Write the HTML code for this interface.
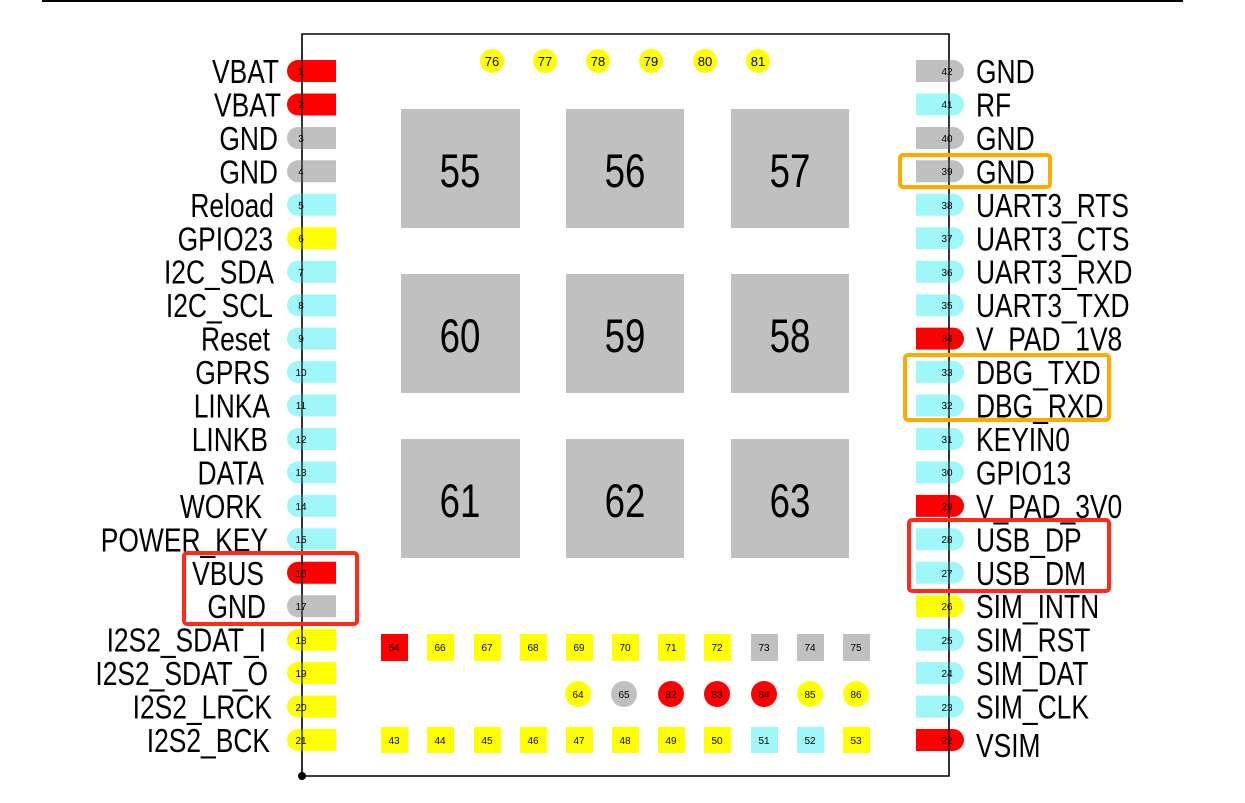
<!DOCTYPE html>
<html><head><meta charset="utf-8"><style>
html,body{margin:0;padding:0;background:#fff;}
svg{display:block;}
text{font-family:"Liberation Sans",sans-serif;}
.lb{font-size:33px;fill:#000;}
.pn{font-size:10px;fill:#000;text-anchor:middle;}
.sm{font-size:10px;fill:#000;text-anchor:middle;}
.big{font-size:47px;fill:#000;text-anchor:middle;}
.tp{font-size:13px;fill:#000;text-anchor:middle;}
</style></head><body>
<svg width="1245" height="803" viewBox="0 0 1245 803" xmlns="http://www.w3.org/2000/svg">
<line x1="42" y1="1" x2="1183" y2="1" stroke="#000" stroke-width="2"/>
<rect x="302" y="34" width="647" height="742" fill="none" stroke="#000" stroke-width="1.5"/>
<circle cx="302" cy="776" r="4" fill="#000"/>

<!-- top circles -->
<g fill="#ffff00">
<circle cx="492" cy="61" r="12"/><circle cx="545" cy="61" r="12"/><circle cx="598" cy="61" r="12"/>
<circle cx="651" cy="61" r="12"/><circle cx="705" cy="61" r="12"/><circle cx="758" cy="61" r="12"/>
</g>
<text class="tp" x="492" y="66">76</text><text class="tp" x="545" y="66">77</text><text class="tp" x="598" y="66">78</text>
<text class="tp" x="651" y="66">79</text><text class="tp" x="705" y="66">80</text><text class="tp" x="758" y="66">81</text>

<!-- big pads -->
<g fill="#c0c0c0">
<rect x="401" y="109" width="119" height="119"/><rect x="566" y="109" width="118" height="119"/><rect x="731" y="109" width="118" height="119"/>
<rect x="401" y="274" width="119" height="119"/><rect x="566" y="274" width="118" height="119"/><rect x="731" y="274" width="118" height="119"/>
<rect x="401" y="439" width="119" height="119"/><rect x="566" y="439" width="118" height="119"/><rect x="731" y="439" width="118" height="119"/>
</g>
<g transform="translate(460,187) scale(0.78,1)"><text class="big">55</text></g>
<g transform="translate(625,187) scale(0.78,1)"><text class="big">56</text></g>
<g transform="translate(790,187) scale(0.78,1)"><text class="big">57</text></g>
<g transform="translate(460,352) scale(0.78,1)"><text class="big">60</text></g>
<g transform="translate(625,352) scale(0.78,1)"><text class="big">59</text></g>
<g transform="translate(790,352) scale(0.78,1)"><text class="big">58</text></g>
<g transform="translate(460,517) scale(0.78,1)"><text class="big">61</text></g>
<g transform="translate(625,517) scale(0.78,1)"><text class="big">62</text></g>
<g transform="translate(790,517) scale(0.78,1)"><text class="big">63</text></g>

<!-- bottom row 1 -->
<rect x="381" y="634" width="27" height="27" fill="#ff0000"/>
<g fill="#ffff00">
<rect x="427" y="634" width="27" height="27"/><rect x="474" y="634" width="27" height="27"/><rect x="520" y="634" width="27" height="27"/>
<rect x="566" y="634" width="27" height="27"/><rect x="612" y="634" width="27" height="27"/><rect x="658" y="634" width="27" height="27"/>
<rect x="704" y="634" width="27" height="27"/>
</g>
<g fill="#c0c0c0"><rect x="751" y="634" width="27" height="27"/><rect x="797" y="634" width="27" height="27"/><rect x="843" y="634" width="27" height="27"/></g>
<text class="sm" x="394" y="651">54</text><text class="sm" x="440" y="651">66</text><text class="sm" x="487" y="651">67</text><text class="sm" x="533" y="651">68</text><text class="sm" x="579" y="651">69</text><text class="sm" x="625" y="651">70</text><text class="sm" x="671" y="651">71</text><text class="sm" x="717" y="651">72</text><text class="sm" x="764" y="651">73</text><text class="sm" x="810" y="651">74</text><text class="sm" x="856" y="651">75</text>

<!-- row 2 circles -->
<circle cx="578" cy="694" r="13" fill="#ffff00"/><circle cx="624" cy="694" r="13" fill="#c0c0c0"/>
<circle cx="671" cy="694" r="13" fill="#ff0000"/><circle cx="717" cy="694" r="13" fill="#ff0000"/><circle cx="764" cy="694" r="13" fill="#ff0000"/>
<circle cx="810" cy="694" r="13" fill="#ffff00"/><circle cx="856" cy="694" r="13" fill="#ffff00"/>
<text class="sm" x="578" y="698">64</text><text class="sm" x="624" y="698">65</text><text class="sm" x="671" y="698">82</text><text class="sm" x="717" y="698">83</text><text class="sm" x="764" y="698">84</text><text class="sm" x="810" y="698">85</text><text class="sm" x="856" y="698">86</text>

<!-- row 3 -->
<g fill="#ffff00">
<rect x="381" y="727" width="27" height="26"/><rect x="427" y="727" width="27" height="26"/><rect x="474" y="727" width="27" height="26"/>
<rect x="520" y="727" width="27" height="26"/><rect x="566" y="727" width="27" height="26"/><rect x="612" y="727" width="27" height="26"/>
<rect x="658" y="727" width="27" height="26"/><rect x="704" y="727" width="27" height="26"/><rect x="843" y="727" width="27" height="26"/>
</g>
<g fill="#9ff7f9"><rect x="751" y="727" width="27" height="26"/><rect x="797" y="727" width="27" height="26"/></g>
<text class="sm" x="394" y="744">43</text><text class="sm" x="440" y="744">44</text><text class="sm" x="487" y="744">45</text><text class="sm" x="533" y="744">46</text><text class="sm" x="579" y="744">47</text><text class="sm" x="625" y="744">48</text><text class="sm" x="671" y="744">49</text><text class="sm" x="717" y="744">50</text><text class="sm" x="764" y="744">51</text><text class="sm" x="810" y="744">52</text><text class="sm" x="856" y="744">53</text>

<!-- left pins -->
<g>
<path d="M336,60H298A11,11 0 0 0 298,82H336Z" fill="#ff0000"/>
<path d="M336,93.5H298A11,11 0 0 0 298,115.5H336Z" fill="#ff0000"/>
<path d="M336,127H298A11,11 0 0 0 298,149H336Z" fill="#c0c0c0"/>
<path d="M336,160.3H298A11,11 0 0 0 298,182.3H336Z" fill="#c0c0c0"/>
<path d="M336,193.8H298A11,11 0 0 0 298,215.8H336Z" fill="#9ff7f9"/>
<path d="M336,227.3H298A11,11 0 0 0 298,249.3H336Z" fill="#ffff00"/>
<path d="M336,260.7H298A11,11 0 0 0 298,282.7H336Z" fill="#9ff7f9"/>
<path d="M336,294.2H298A11,11 0 0 0 298,316.2H336Z" fill="#9ff7f9"/>
<path d="M336,327.6H298A11,11 0 0 0 298,349.6H336Z" fill="#9ff7f9"/>
<path d="M336,361H298A11,11 0 0 0 298,383H336Z" fill="#9ff7f9"/>
<path d="M336,394.5H298A11,11 0 0 0 298,416.5H336Z" fill="#9ff7f9"/>
<path d="M336,428H298A11,11 0 0 0 298,450H336Z" fill="#9ff7f9"/>
<path d="M336,461.4H298A11,11 0 0 0 298,483.4H336Z" fill="#9ff7f9"/>
<path d="M336,494.9H298A11,11 0 0 0 298,516.9H336Z" fill="#9ff7f9"/>
<path d="M336,528.3H298A11,11 0 0 0 298,550.3H336Z" fill="#9ff7f9"/>
<path d="M336,561.8H298A11,11 0 0 0 298,583.8H336Z" fill="#ff0000"/>
<path d="M336,595.2H298A11,11 0 0 0 298,617.2H336Z" fill="#c0c0c0"/>
<path d="M336,628.7H298A11,11 0 0 0 298,650.7H336Z" fill="#ffff00"/>
<path d="M336,662.1H298A11,11 0 0 0 298,684.1H336Z" fill="#ffff00"/>
<path d="M336,695.6H298A11,11 0 0 0 298,717.6H336Z" fill="#ffff00"/>
<path d="M336,729H298A11,11 0 0 0 298,751H336Z" fill="#ffff00"/>
</g>
<line x1="302" y1="34" x2="302" y2="776" stroke="#000" stroke-width="1.2"/>
<g class="pn">
<text class="pn" x="301" y="75">1</text><text class="pn" x="301" y="108">2</text><text class="pn" x="301" y="142">3</text><text class="pn" x="301" y="175">4</text><text class="pn" x="301" y="209">5</text><text class="pn" x="301" y="242">6</text><text class="pn" x="301" y="276">7</text><text class="pn" x="301" y="309">8</text><text class="pn" x="301" y="342">9</text><text class="pn" x="301" y="376">10</text><text class="pn" x="301" y="409">11</text><text class="pn" x="301" y="443">12</text><text class="pn" x="301" y="476">13</text><text class="pn" x="301" y="510">14</text><text class="pn" x="301" y="543">15</text><text class="pn" x="301" y="577">16</text><text class="pn" x="301" y="610">17</text><text class="pn" x="301" y="644">18</text><text class="pn" x="301" y="677">19</text><text class="pn" x="301" y="711">20</text><text class="pn" x="301" y="744">21</text>
</g>
<g text-anchor="end">
<g transform="translate(279,83) scale(0.8,1)"><text class="lb">VBAT</text></g>
<g transform="translate(281,116.5) scale(0.8,1)"><text class="lb">VBAT</text></g>
<g transform="translate(278,150) scale(0.8,1)"><text class="lb">GND</text></g>
<g transform="translate(278,183.3) scale(0.8,1)"><text class="lb">GND</text></g>
<g transform="translate(274,216.8) scale(0.8,1)"><text class="lb">Reload</text></g>
<g transform="translate(273,250.3) scale(0.8,1)"><text class="lb">GPIO23</text></g>
<g transform="translate(274,283.7) scale(0.8,1)"><text class="lb">I2C_SDA</text></g>
<g transform="translate(273,317.2) scale(0.8,1)"><text class="lb">I2C_SCL</text></g>
<g transform="translate(270,350.6) scale(0.8,1)"><text class="lb">Reset</text></g>
<g transform="translate(270,384) scale(0.8,1)"><text class="lb">GPRS</text></g>
<g transform="translate(270,417.5) scale(0.8,1)"><text class="lb">LINKA</text></g>
<g transform="translate(268,451) scale(0.8,1)"><text class="lb">LINKB</text></g>
<g transform="translate(264,484.4) scale(0.8,1)"><text class="lb">DATA</text></g>
<g transform="translate(262,517.9) scale(0.8,1)"><text class="lb">WORK</text></g>
<g transform="translate(268,551.3) scale(0.8,1)"><text class="lb">POWER_KEY</text></g>
<g transform="translate(264,584.8) scale(0.8,1)"><text class="lb">VBUS</text></g>
<g transform="translate(266,618.2) scale(0.8,1)"><text class="lb">GND</text></g>
<g transform="translate(266,651.7) scale(0.8,1)"><text class="lb">I2S2_SDAT_I</text></g>
<g transform="translate(268,685.1) scale(0.8,1)"><text class="lb">I2S2_SDAT_O</text></g>
<g transform="translate(272,718.6) scale(0.8,1)"><text class="lb">I2S2_LRCK</text></g>
<g transform="translate(270,752) scale(0.8,1)"><text class="lb">I2S2_BCK</text></g>
</g>

<!-- right pins -->
<g>
<path d="M916,60H953A11,11 0 0 1 953,82H916Z" fill="#c0c0c0"/>
<path d="M916,93.5H953A11,11 0 0 1 953,115.5H916Z" fill="#9ff7f9"/>
<path d="M916,127H953A11,11 0 0 1 953,149H916Z" fill="#c0c0c0"/>
<path d="M916,160.3H953A11,11 0 0 1 953,182.3H916Z" fill="#c0c0c0"/>
<path d="M916,193.8H953A11,11 0 0 1 953,215.8H916Z" fill="#9ff7f9"/>
<path d="M916,227.3H953A11,11 0 0 1 953,249.3H916Z" fill="#9ff7f9"/>
<path d="M916,260.7H953A11,11 0 0 1 953,282.7H916Z" fill="#9ff7f9"/>
<path d="M916,294.2H953A11,11 0 0 1 953,316.2H916Z" fill="#9ff7f9"/>
<path d="M916,327.6H953A11,11 0 0 1 953,349.6H916Z" fill="#ff0000"/>
<path d="M916,361H953A11,11 0 0 1 953,383H916Z" fill="#9ff7f9"/>
<path d="M916,394.5H953A11,11 0 0 1 953,416.5H916Z" fill="#9ff7f9"/>
<path d="M916,428H953A11,11 0 0 1 953,450H916Z" fill="#9ff7f9"/>
<path d="M916,461.4H953A11,11 0 0 1 953,483.4H916Z" fill="#9ff7f9"/>
<path d="M916,494.9H953A11,11 0 0 1 953,516.9H916Z" fill="#ff0000"/>
<path d="M916,528.3H953A11,11 0 0 1 953,550.3H916Z" fill="#9ff7f9"/>
<path d="M916,561.8H953A11,11 0 0 1 953,583.8H916Z" fill="#9ff7f9"/>
<path d="M916,595.2H953A11,11 0 0 1 953,617.2H916Z" fill="#ffff00"/>
<path d="M916,628.7H953A11,11 0 0 1 953,650.7H916Z" fill="#9ff7f9"/>
<path d="M916,662.1H953A11,11 0 0 1 953,684.1H916Z" fill="#9ff7f9"/>
<path d="M916,695.6H953A11,11 0 0 1 953,717.6H916Z" fill="#9ff7f9"/>
<path d="M916,729H953A11,11 0 0 1 953,751H916Z" fill="#ff0000"/>
</g>
<line x1="949" y1="34" x2="949" y2="776" stroke="#000" stroke-width="1.2"/>
<text class="pn" x="947" y="75">42</text><text class="pn" x="947" y="108">41</text><text class="pn" x="947" y="142">40</text><text class="pn" x="947" y="175">39</text><text class="pn" x="947" y="209">38</text><text class="pn" x="947" y="242">37</text><text class="pn" x="947" y="276">36</text><text class="pn" x="947" y="309">35</text><text class="pn" x="947" y="342">34</text><text class="pn" x="947" y="376">33</text><text class="pn" x="947" y="409">32</text><text class="pn" x="947" y="443">31</text><text class="pn" x="947" y="476">30</text><text class="pn" x="947" y="510">29</text><text class="pn" x="947" y="543">28</text><text class="pn" x="947" y="577">27</text><text class="pn" x="947" y="610">26</text><text class="pn" x="947" y="644">25</text><text class="pn" x="947" y="677">24</text><text class="pn" x="947" y="711">23</text><text class="pn" x="947" y="744">22</text>
<g>
<g transform="translate(976,83) scale(0.8,1)"><text class="lb">GND</text></g>
<g transform="translate(976,116.5) scale(0.8,1)"><text class="lb">RF</text></g>
<g transform="translate(976,150) scale(0.8,1)"><text class="lb">GND</text></g>
<g transform="translate(976,183.3) scale(0.8,1)"><text class="lb">GND</text></g>
<g transform="translate(976,216.8) scale(0.8,1)"><text class="lb">UART3_RTS</text></g>
<g transform="translate(976,250.3) scale(0.8,1)"><text class="lb">UART3_CTS</text></g>
<g transform="translate(976,283.7) scale(0.8,1)"><text class="lb">UART3_RXD</text></g>
<g transform="translate(976,317.2) scale(0.8,1)"><text class="lb">UART3_TXD</text></g>
<g transform="translate(976,350.6) scale(0.8,1)"><text class="lb">V_PAD_1V8</text></g>
<g transform="translate(976,384) scale(0.8,1)"><text class="lb">DBG_TXD</text></g>
<g transform="translate(976,417.5) scale(0.8,1)"><text class="lb">DBG_RXD</text></g>
<g transform="translate(976,451) scale(0.8,1)"><text class="lb">KEYIN0</text></g>
<g transform="translate(976,484.4) scale(0.8,1)"><text class="lb">GPIO13</text></g>
<g transform="translate(976,517.9) scale(0.8,1)"><text class="lb">V_PAD_3V0</text></g>
<g transform="translate(976,551.3) scale(0.8,1)"><text class="lb">USB_DP</text></g>
<g transform="translate(976,584.8) scale(0.8,1)"><text class="lb">USB_DM</text></g>
<g transform="translate(976,618.2) scale(0.8,1)"><text class="lb">SIM_INTN</text></g>
<g transform="translate(976,651.7) scale(0.8,1)"><text class="lb">SIM_RST</text></g>
<g transform="translate(976,685.1) scale(0.8,1)"><text class="lb">SIM_DAT</text></g>
<g transform="translate(976,718.6) scale(0.8,1)"><text class="lb">SIM_CLK</text></g>
<g transform="translate(976,757) scale(0.8,1)"><text class="lb">VSIM</text></g>
</g>

<!-- highlight boxes -->
<g fill="none" stroke-width="4">
<rect x="900" y="155" width="150" height="32" rx="3" stroke="#ffaa00"/>
<rect x="905" y="355" width="204" height="65" rx="3" stroke="#ffaa00"/>
<rect x="909" y="520" width="200" height="71" rx="3" stroke="#ff2a1a"/>
<rect x="184" y="553" width="173" height="71" rx="3" stroke="#ff2a1a"/>
</g>
</svg>
</body></html>
